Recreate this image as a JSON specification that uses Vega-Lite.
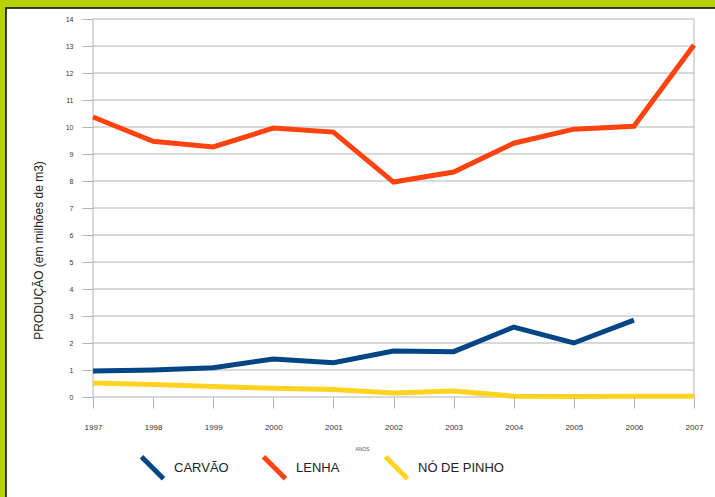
{
  "$schema": "https://vega.github.io/schema/vega-lite/v6.json",
  "width": 601,
  "height": 378,
  "autosize": {"type": "none"},
  "padding": {"left": 93, "top": 19, "right": 21, "bottom": 100},
  "background": "#b5d100",
  "config": {
    "font": "Liberation Sans",
    "view": {"stroke": null, "fill": "white"}
  },
  "datasets": {
    "producao": [
      {"ano": 1997, "serie": "CARVÃO", "valor": 0.96},
      {"ano": 1998, "serie": "CARVÃO", "valor": 1.0},
      {"ano": 1999, "serie": "CARVÃO", "valor": 1.08},
      {"ano": 2000, "serie": "CARVÃO", "valor": 1.41},
      {"ano": 2001, "serie": "CARVÃO", "valor": 1.27},
      {"ano": 2002, "serie": "CARVÃO", "valor": 1.7},
      {"ano": 2003, "serie": "CARVÃO", "valor": 1.68},
      {"ano": 2004, "serie": "CARVÃO", "valor": 2.59},
      {"ano": 2005, "serie": "CARVÃO", "valor": 2.0},
      {"ano": 2006, "serie": "CARVÃO", "valor": 2.85},
      {"ano": 1997, "serie": "LENHA", "valor": 10.37},
      {"ano": 1998, "serie": "LENHA", "valor": 9.47},
      {"ano": 1999, "serie": "LENHA", "valor": 9.26},
      {"ano": 2000, "serie": "LENHA", "valor": 9.96},
      {"ano": 2001, "serie": "LENHA", "valor": 9.81},
      {"ano": 2002, "serie": "LENHA", "valor": 7.96},
      {"ano": 2003, "serie": "LENHA", "valor": 8.33},
      {"ano": 2004, "serie": "LENHA", "valor": 9.4},
      {"ano": 2005, "serie": "LENHA", "valor": 9.92},
      {"ano": 2006, "serie": "LENHA", "valor": 10.03},
      {"ano": 2007, "serie": "LENHA", "valor": 13.04},
      {"ano": 1997, "serie": "NÓ DE PINHO", "valor": 0.52},
      {"ano": 1998, "serie": "NÓ DE PINHO", "valor": 0.46},
      {"ano": 1999, "serie": "NÓ DE PINHO", "valor": 0.39},
      {"ano": 2000, "serie": "NÓ DE PINHO", "valor": 0.32},
      {"ano": 2001, "serie": "NÓ DE PINHO", "valor": 0.28},
      {"ano": 2002, "serie": "NÓ DE PINHO", "valor": 0.15},
      {"ano": 2003, "serie": "NÓ DE PINHO", "valor": 0.22},
      {"ano": 2004, "serie": "NÓ DE PINHO", "valor": 0.03},
      {"ano": 2005, "serie": "NÓ DE PINHO", "valor": 0.02},
      {"ano": 2006, "serie": "NÓ DE PINHO", "valor": 0.03},
      {"ano": 2007, "serie": "NÓ DE PINHO", "valor": 0.03}
    ],
    "gradeY": [
      {"valor": 0}, {"valor": 1}, {"valor": 2}, {"valor": 3}, {"valor": 4}, {"valor": 5}, {"valor": 6}, {"valor": 7},
      {"valor": 8}, {"valor": 9}, {"valor": 10}, {"valor": 11}, {"valor": 12}, {"valor": 13}, {"valor": 14}
    ],
    "gradeX": [{"ano": 1997}, {"ano": 2007}]
  },
  "layer": [
    {
      "data": {"values": [{}]},
      "mark": {"type": "rect", "fill": "white", "stroke": "black", "strokeWidth": 1.5},
      "encoding": {
        "x": {"value": -87},
        "x2": {"value": 640},
        "y": {"value": -11},
        "y2": {"value": 500}
      }
    },
    {
      "data": {"name": "gradeY"},
      "mark": {"type": "rule", "color": "#b3b3b3", "strokeWidth": 1},
      "encoding": {
        "y": {
          "field": "valor",
          "type": "quantitative",
          "scale": {"domain": [0, 14], "nice": false},
          "axis": {
            "zindex": 1,
            "values": [0, 1, 2, 3, 4, 5, 6, 7, 8, 9, 10, 11, 12, 13, 14],
            "grid": false,
            "domain": false,
            "labelOverlap": false,
            "tickColor": "#b3b3b3",
            "tickSize": 11,
            "labelFontSize": 7,
            "labelColor": "#333333",
            "labelPadding": 9,
            "title": "PRODUÇÃO (em milhões de m3)",
            "titleFontSize": 12,
            "titleFontWeight": "normal",
            "titleColor": "#222222",
            "titleX": -55,
            "titleY": 231,
            "titleAngle": -90,
            "titleBaseline": "middle",
            "titleAlign": "center"
          }
        }
      }
    },
    {
      "data": {"name": "gradeX"},
      "mark": {"type": "rule", "color": "#b3b3b3", "strokeWidth": 1},
      "encoding": {
        "x": {
          "field": "ano",
          "type": "quantitative",
          "scale": {"domain": [1997, 2007], "nice": false, "zero": false},
          "axis": {
            "zindex": 1,
            "values": [1997, 1998, 1999, 2000, 2001, 2002, 2003, 2004, 2005, 2006, 2007],
            "format": "d",
            "grid": false,
            "domain": false,
            "labelOverlap": false,
            "tickColor": "#b3b3b3",
            "tickSize": 11,
            "labelFontSize": 8,
            "labelColor": "#333333",
            "labelPadding": 15,
            "labelFlush": false,
            "title": "ANOS",
            "titleFontSize": 5,
            "titleFontWeight": "normal",
            "titleColor": "#555555",
            "titleX": 269,
            "titleY": 51,
            "titleBaseline": "middle"
          }
        }
      }
    },
    {
      "data": {"name": "producao"},
      "mark": {"type": "line", "strokeWidth": 5, "strokeJoin": "miter", "strokeCap": "butt"},
      "encoding": {
        "x": {
          "field": "ano",
          "type": "quantitative",
          "scale": {"domain": [1997, 2007], "nice": false, "zero": false},
          "axis": {
            "zindex": 1,
            "values": [1997, 1998, 1999, 2000, 2001, 2002, 2003, 2004, 2005, 2006, 2007],
            "format": "d",
            "grid": false,
            "domain": false,
            "labelOverlap": false,
            "tickColor": "#b3b3b3",
            "tickSize": 11,
            "labelFontSize": 8,
            "labelColor": "#333333",
            "labelPadding": 15,
            "labelFlush": false,
            "title": "ANOS",
            "titleFontSize": 5,
            "titleFontWeight": "normal",
            "titleColor": "#555555",
            "titleX": 269,
            "titleY": 51,
            "titleBaseline": "middle"
          }
        },
        "y": {
          "field": "valor",
          "type": "quantitative",
          "scale": {"domain": [0, 14], "nice": false},
          "axis": {
            "zindex": 1,
            "values": [0, 1, 2, 3, 4, 5, 6, 7, 8, 9, 10, 11, 12, 13, 14],
            "grid": false,
            "domain": false,
            "labelOverlap": false,
            "tickColor": "#b3b3b3",
            "tickSize": 11,
            "labelFontSize": 7,
            "labelColor": "#333333",
            "labelPadding": 9,
            "title": "PRODUÇÃO (em milhões de m3)",
            "titleFontSize": 12,
            "titleFontWeight": "normal",
            "titleColor": "#222222",
            "titleX": -55,
            "titleY": 231,
            "titleAngle": -90,
            "titleBaseline": "middle",
            "titleAlign": "center"
          }
        },
        "color": {
          "field": "serie",
          "type": "nominal",
          "scale": {
            "domain": ["CARVÃO", "LENHA", "NÓ DE PINHO"],
            "range": ["#004586", "#ff420e", "#ffd320"]
          },
          "legend": {
            "orient": "none",
            "legendX": 46,
            "legendY": 435,
            "direction": "horizontal",
            "columns": 3,
            "gridAlign": "all",
            "columnPadding": -7,
            "padding": 0,
            "title": null,
            "symbolType": "M-1,-1L1,1",
            "symbolSize": 484,
            "symbolStrokeWidth": 5,
            "labelFontSize": 13,
            "labelColor": "#222222",
            "labelOffset": 8,
            "labelLimit": 200
          }
        }
      }
    }
  ]
}
